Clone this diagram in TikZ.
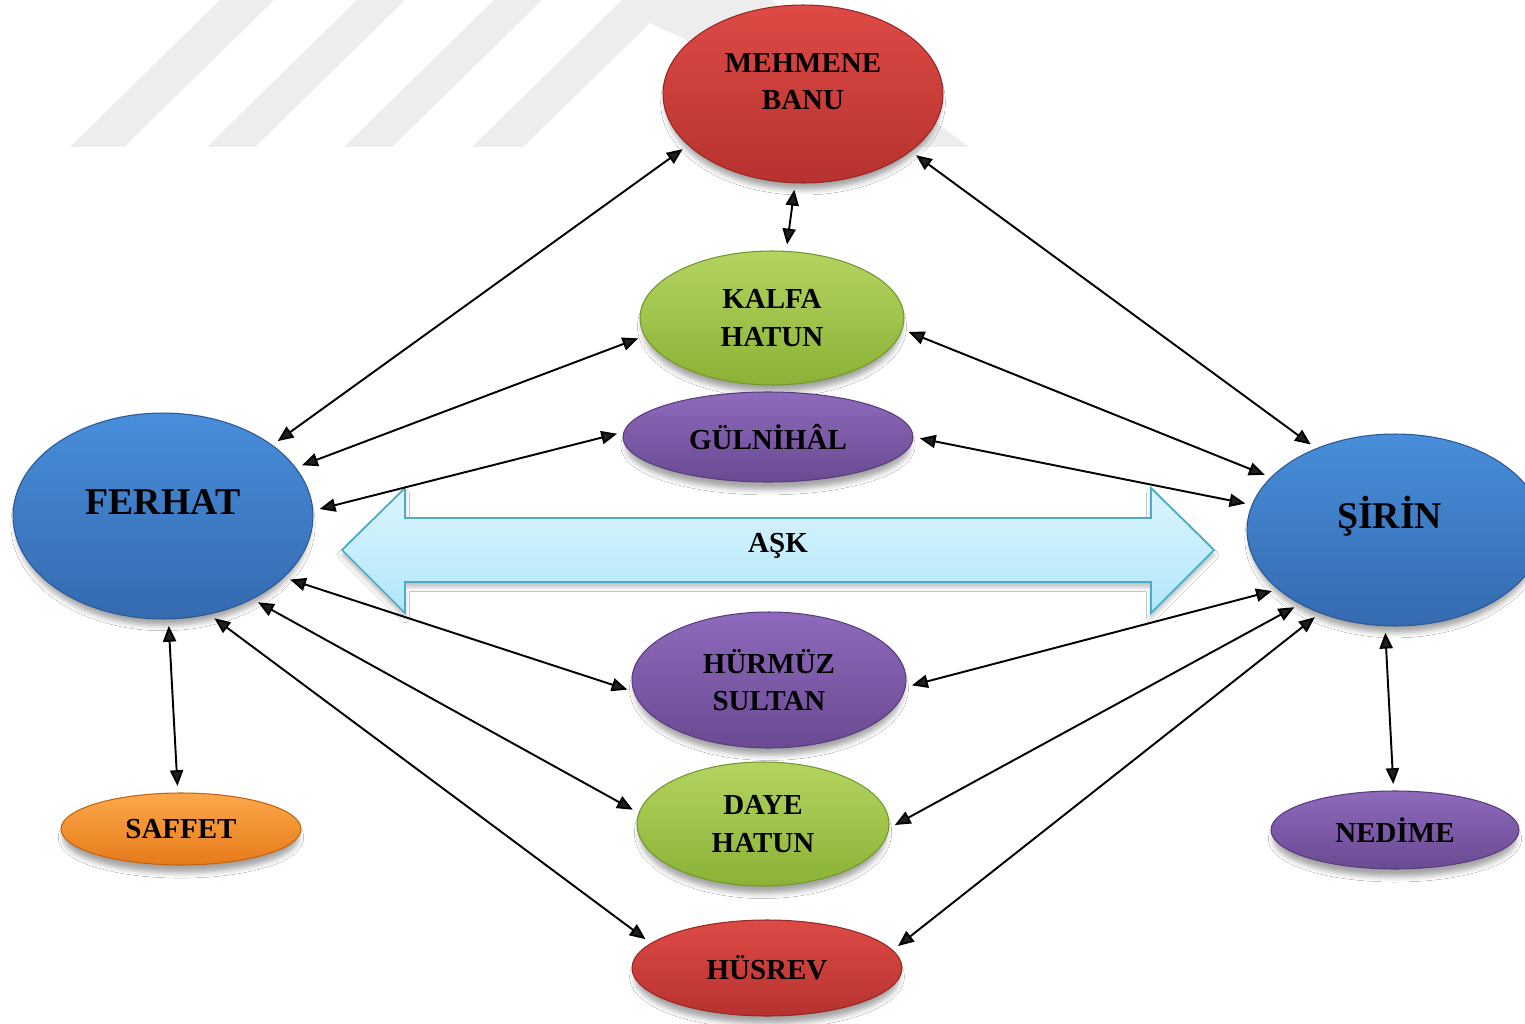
\documentclass[tikz,border=0pt]{standalone}
\usepackage{fontspec}
\setmainfont{Liberation Serif}
\usetikzlibrary{arrows.meta,shapes.geometric,shadows.blur}

% fill colours: top / bottom of the gradient and the rim
\definecolor{redT}{RGB}{222,74,70}
\definecolor{redB}{RGB}{182,50,46}
\definecolor{redE}{RGB}{150,40,38}
\definecolor{grnT}{RGB}{180,212,96}
\definecolor{grnB}{RGB}{138,178,54}
\definecolor{grnE}{RGB}{116,150,44}
\definecolor{purT}{RGB}{142,106,188}
\definecolor{purB}{RGB}{106,74,146}
\definecolor{purE}{RGB}{88,60,124}
\definecolor{bluT}{RGB}{72,142,218}
\definecolor{bluB}{RGB}{52,106,176}
\definecolor{bluE}{RGB}{44,88,148}
\definecolor{orgT}{RGB}{252,168,74}
\definecolor{orgB}{RGB}{230,122,26}
\definecolor{orgE}{RGB}{190,100,22}
\definecolor{askT}{RGB}{220,245,253}
\definecolor{askB}{RGB}{176,231,250}
\definecolor{askE}{RGB}{74,172,198}

\tikzset{
  ell/.style={ellipse, inner sep=0pt, outer sep=0pt, line width=0.6pt,
    align=center, font=\bfseries\fontsize{16.5}{21.5}\selectfont,
    blur shadow={shadow xshift=0pt, shadow yshift=-5pt, shadow scale=0.98,
      shadow opacity=35, shadow blur radius=3pt}},
  redfill/.style={top color=redT, bottom color=redB, draw=redE},
  grnfill/.style={top color=grnT, bottom color=grnB, draw=grnE},
  purfill/.style={top color=purT, bottom color=purB, draw=purE},
  blufill/.style={top color=bluT, bottom color=bluB, draw=bluE},
  orgfill/.style={top color=orgT, bottom color=orgB, draw=orgE},
  midtext/.style={font=\bfseries\fontsize{16.5}{21.5}\selectfont, align=center},
  bigtext/.style={font=\bfseries\fontsize{21.5}{26}\selectfont},
  link/.style={line width=1.1pt,
    {Triangle[length=9pt,width=7.5pt]}-{Triangle[length=9pt,width=7.5pt]},
    shorten <=4pt, shorten >=4pt},
  wmark/.style={fill=black!7, draw=none},
}

\begin{document}
\begin{tikzpicture}[x=0.02cm, y=-0.02cm]
  \useasboundingbox (0,0) rectangle (1525,1024);
  \fill[white] (0,0) rectangle (1525,1024);

  % faint stripes in the background
  \path[wmark] (70,147) -- (124,147) -- (274,0) -- (220,0) -- cycle;
  \path[wmark] (207,147) -- (255,147) -- (405,0) -- (357,0) -- cycle;
  \path[wmark] (344,147) -- (392,147) -- (542,0) -- (494,0) -- cycle;
  \path[wmark] (472,147) -- (622,0) -- (771,0) -- (969,147) -- (918,147)
               -- (650,23) -- (523,147) -- cycle;

  % the broad double arrow
  \path[top color=askT, bottom color=askB, draw=askE, line width=1pt,
        blur shadow={shadow xshift=0pt, shadow yshift=-3pt,
          shadow opacity=25, shadow blur radius=2.5pt}]
    (342,550) -- (405,488) -- (405,518) -- (1151,518) -- (1151,488)
    -- (1214,550) -- (1151,613) -- (1151,582) -- (405,582) -- (405,613) -- cycle;
  \node[midtext] (ask) at (778,546) {AŞK};

  % characters
  \node[ell, redfill, minimum width=5.6cm, minimum height=3.56cm,
        label={[midtext, yshift=7pt]center:MEHMENE\\BANU}] (mehmene) at (803,94) {};
  \node[ell, grnfill, minimum width=5.28cm, minimum height=2.68cm] (kalfa) at (772,318) {KALFA\\HATUN};
  \node[ell, purfill, minimum width=5.8cm, minimum height=1.8cm] (gulnihal) at (768,437) {GÜLNİHÂL};
  \node[ell, blufill, minimum width=6cm, minimum height=4.12cm,
        label={[bigtext, yshift=8pt]center:FERHAT}] (ferhat) at (163,516) {};
  \node[ell, blufill, minimum width=5.92cm, minimum height=3.84cm,
        label={[bigtext, yshift=8pt, xshift=-3pt]center:ŞİRİN}] (sirin) at (1395,530) {};
  \node[ell, purfill, minimum width=5.48cm, minimum height=2.72cm] (hurmuz) at (769,680) {HÜRMÜZ\\SULTAN};
  \node[ell, grnfill, minimum width=5.04cm, minimum height=2.48cm] (daye) at (763,824) {DAYE\\HATUN};
  \node[ell, redfill, minimum width=5.4cm, minimum height=1.92cm] (husrev) at (767,968) {HÜSREV};
  \node[ell, orgfill, minimum width=4.8cm, minimum height=1.44cm] (saffet) at (181,829) {SAFFET};
  \node[ell, purfill, minimum width=4.96cm, minimum height=1.56cm] (nedime) at (1395,830) {NEDİME};

  % relations
  \draw[link] (ferhat.33)  -- (mehmene.204);
  \draw[link] (ferhat.20)  -- (kalfa.188);
  \draw[link] (ferhat.2)   -- (gulnihal.178);
  \draw[link] (ferhat.333) -- (hurmuz.185);
  \draw[link] (ferhat.317) -- (daye.175);
  \draw[link] (ferhat.295) -- (husrev.168);
  \draw[link] (ferhat.273) -- (saffet.95);
  \draw[link] (mehmene.265) -- (kalfa.78);
  \draw[link] (mehmene.332) -- (sirin.134);
  \draw[link] (kalfa.355)   -- (sirin.157);
  \draw[link] (gulnihal.0)  -- (sirin.170);
  \draw[link] (hurmuz.357)  -- (sirin.207);
  \draw[link] (daye.358)    -- (sirin.218);
  \draw[link] (husrev.8)    -- (sirin.228);
  \draw[link] (sirin.264)   -- (nedime.92);
\end{tikzpicture}
\end{document}
